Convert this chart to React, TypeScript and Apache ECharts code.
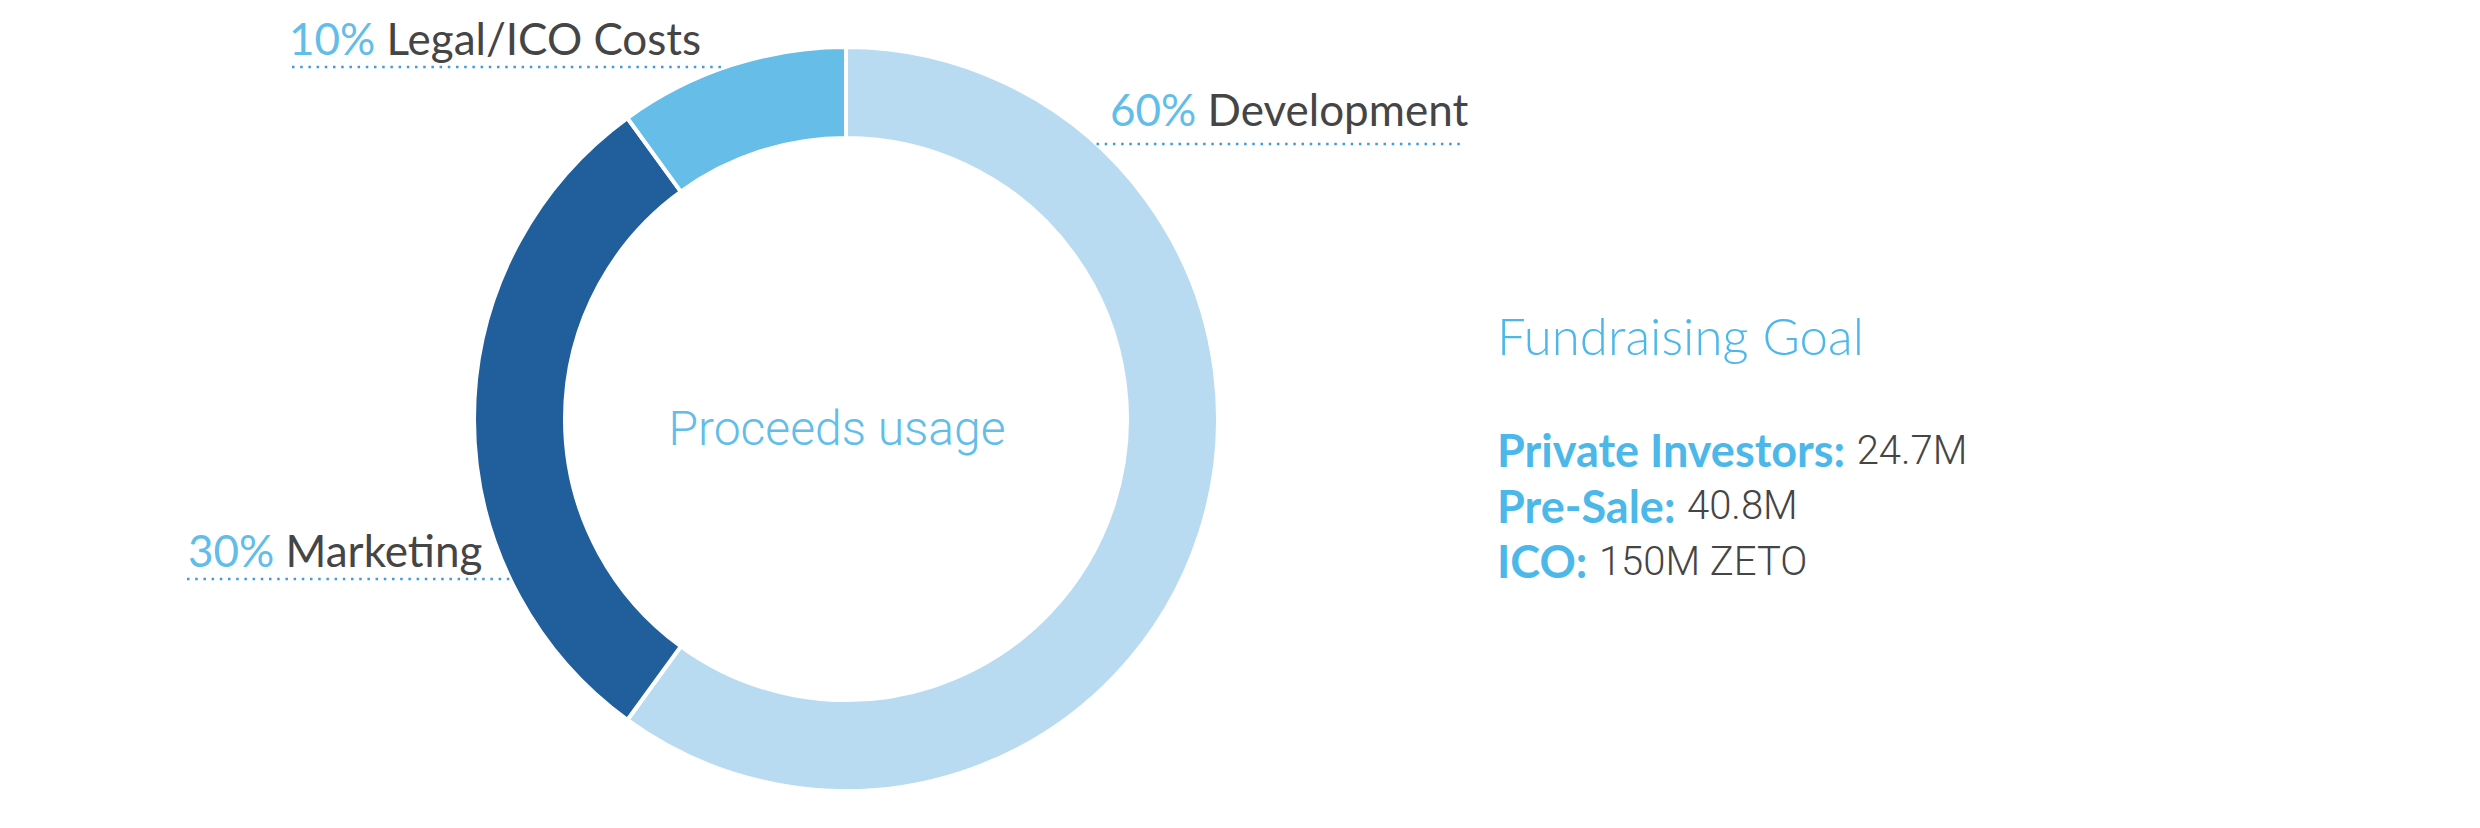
import React, { useEffect, useRef } from "react";
import * as echarts from "echarts";

// ---- data ----
const slices = ["Development", "Marketing", "Legal/ICO Costs"];
const shares = [60, 30, 10];
const sliceColors = ["#b9dbf2", "#215f9c", "#65bde8"];
const centerTitle = "Proceeds usage";
const goalTitle = "Fundraising Goal";
const goalLabels = ["Private Investors:", "Pre-Sale:", "ICO:"];
const goalValues = ["24.7M", "40.8M", "150M ZETO"];

// ---- layout ----
const CX = 846;
const CY = 419;
const R_IN = 281;
const R_OUT = 372;
// label placement per slice: text left x, baseline y, line y, side of ring
const labelPos = [
  { x: 1110, base: 124, lineY: 144, lineFrom: 1093, lineTo: 1463, side: "right" },
  { x: 188, base: 565, lineY: 579, lineFrom: 187, lineTo: 0, side: "left" },
  { x: 289, base: 53, lineY: 67, lineFrom: 292, lineTo: 0, side: "left" },
];

const LABEL_FONT = "Lato";
const LABEL_SIZE = 44;
const BLUE = "#4cb8e9";
const GRAY = "#454545";

export default function App() {
  const ref = useRef<HTMLDivElement>(null);
  useEffect(() => {
    if (!ref.current) return;
    const chart = echarts.init(ref.current, null, { renderer: "svg" });
    const graphics: any[] = [];
    slices.forEach((name, i) => {
      const p = labelPos[i];
      const dy = CY - p.lineY;
      const dx = Math.sqrt(R_OUT * R_OUT - dy * dy);
      const edge = p.side === "left" ? CX - dx : CX + dx;
      const x1 = p.side === "left" ? p.lineFrom : edge;
      const x2 = p.side === "left" ? edge : p.lineTo;
      graphics.push({
        type: "line",
        shape: { x1, y1: p.lineY, x2, y2: p.lineY },
        style: { stroke: "#3d9de0", lineWidth: 2.5, lineDash: [2.5, 5.7] },
        z: 10,
      });
      graphics.push({
        type: "text",
        x: p.x,
        y: p.base - LABEL_SIZE * 0.35,
        style: {
          text: `{p|${shares[i]}%} {n|${name}}`,
          verticalAlign: "middle",
          align: "left",
          rich: {
            p: { fontFamily: LABEL_FONT, fontSize: LABEL_SIZE, fill: "#62bde9", fontWeight: 400 },
            n: { fontFamily: LABEL_FONT, fontSize: LABEL_SIZE, fill: GRAY, fontWeight: 400 },
          },
          fontFamily: LABEL_FONT,
          fontSize: LABEL_SIZE,
        },
        z: 10,
      });
    });
    graphics.push({
      type: "text",
      x: 837,
      y: 445 - 48 * 0.35,
      style: {
        text: centerTitle,
        align: "center",
        verticalAlign: "middle",
        fontFamily: "Roboto",
        fontWeight: 300,
        fontSize: 48,
        fill: "#62bde9",
      },
    });
    graphics.push({
      type: "text",
      x: 1497,
      y: 353 - 51 * 0.35,
      style: {
        text: goalTitle,
        align: "left",
        verticalAlign: "middle",
        fontFamily: LABEL_FONT,
        fontWeight: 300,
        fontSize: 51,
        fill: BLUE,
      },
    });
    goalLabels.forEach((lab, i) => {
      graphics.push({
        type: "text",
        x: 1497,
        y: 466 + i * 55.5 - 45 * 0.35,
        style: {
          text: `{b|${lab}} {v|${goalValues[i]}}`,
          align: "left",
          verticalAlign: "middle",
          fontFamily: LABEL_FONT,
          fontSize: 45,
          rich: {
            b: { fontFamily: LABEL_FONT, fontSize: 45, fontWeight: 700, fill: BLUE },
            v: { fontFamily: "Roboto", fontSize: 40, fontWeight: 300, fill: GRAY },
          },
        },
      });
    });

    chart.setOption({
      animation: false,
      backgroundColor: "#ffffff",
      series: [
        {
          type: "pie",
          center: [CX, CY],
          radius: [R_IN, R_OUT],
          startAngle: 90,
          clockwise: true,
          label: { show: false },
          labelLine: { show: false },
          emphasis: { disabled: true },
          itemStyle: { borderColor: "#ffffff", borderWidth: 4 },
          data: slices.map((name, i) => ({
            name,
            value: shares[i],
            itemStyle: { color: sliceColors[i] },
          })),
        },
      ],
      graphic: graphics,
    });
    return () => chart.dispose();
  }, []);
  return (
    <div
      ref={ref}
      style={{ position: "fixed", left: 0, top: 0, width: 2480, height: 828 }}
    />
  );
}
